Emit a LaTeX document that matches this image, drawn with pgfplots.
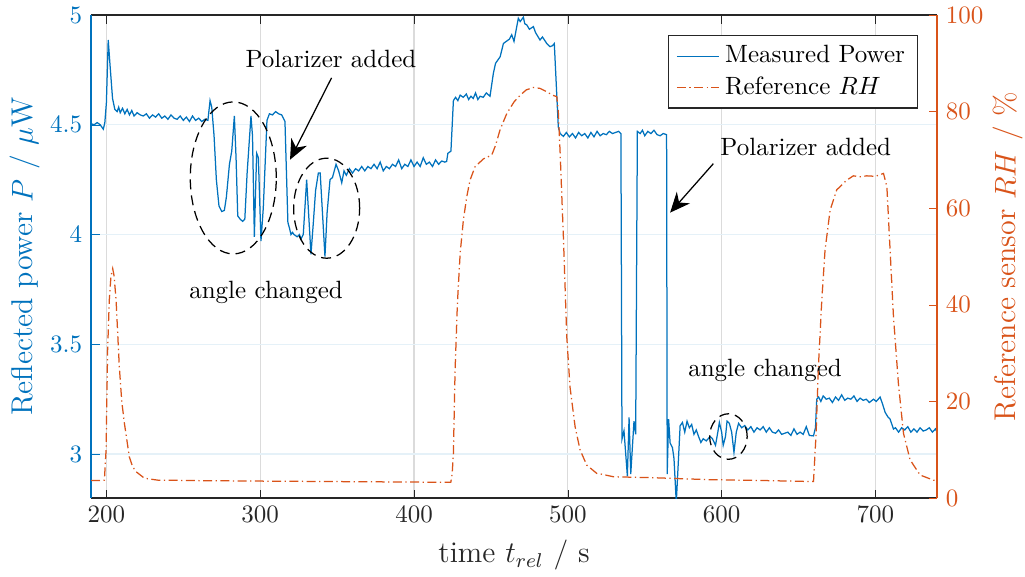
\documentclass[border=0pt]{standalone}
\usepackage{pgfplots}
\pgfplotsset{compat=1.18}
\usetikzlibrary{arrows.meta}
\definecolor{mblue}{rgb}{0,0.447,0.741}
\definecolor{morange}{rgb}{0.85,0.325,0.098}
\definecolor{mgray}{rgb}{0.15,0.15,0.15}
\tikzset{rhstyle/.style={color=morange, line width=0.5pt, dash pattern=on 3.6pt off 1.4pt on 0.5pt off 1.4pt},
  pstyle/.style={color=mblue, line width=0.5pt},
  ell/.style={black, line width=0.5pt, dash pattern=on 4pt off 2.4pt},
  arr/.style={black, line width=0.5pt, -{Stealth[length=8pt,width=7pt]}}}
\begin{document}
\begin{tikzpicture}
\begin{axis}[name=ax, width=338.4pt, height=193.2pt, scale only axis,
  xmin=190, xmax=740, ymin=2.8, ymax=5,
  axis x line*=box, axis y line*=left,
  xtick={200,300,...,700}, ytick={3,3.5,4,4.5,5},
  tick align=inside, major tick length=3.4pt,
  xtick pos=both,
  x axis line style={draw=mgray, line width=0.5pt},
  y axis line style={draw=mblue, line width=0.5pt},
  xtick style={draw=mgray}, ytick style={draw=mblue},
  xticklabel style={text=mgray, font=\normalsize},
  yticklabel style={text=mblue, font=\normalsize},
  xmajorgrids, ymajorgrids,
  major x grid style={draw=black!14, line width=0.5pt},
  major y grid style={draw=mblue!10, line width=0.5pt},
  xlabel={\large time $t_{rel}$ / s},
  ylabel={\large Reflected power $P$ / $\mu$W},
  xlabel style={text=mgray},
  ylabel style={text=mblue},
  ylabel shift=-2.8pt,
  clip=true]
\addplot[pstyle] coordinates {
(190,4.505)(192,4.50)(194,4.51)(196,4.50)(198,4.48)(199,4.51)(200,4.60)(201.2,4.886)(202.5,4.76)(204,4.62)(205.5,4.57)(207,4.56)(208,4.58)(209,4.555)(210.5,4.575)(212,4.55)(213.5,4.57)(215,4.545)(216.5,4.565)(218,4.54)(220,4.555)(222,4.545)(224,4.54)(226,4.55)(228,4.53)(230,4.545)(232,4.535)(234,4.55)(236,4.53)(238,4.54)(240,4.525)(242,4.545)(244,4.53)(246,4.525)(248,4.54)(250,4.52)(252,4.535)(254,4.515)(256,4.54)(258,4.52)(260,4.53)(262,4.515)(264,4.525)(266,4.52)
(267.4,4.61)(268.5,4.58)(270,4.45)(271.5,4.25)(273.2,4.13)(275,4.105)(276.7,4.11)(278,4.17)(280,4.32)(281.5,4.38)(283.2,4.54)(284.3,4.35)(285.4,4.085)(287,4.07)(288.6,4.06)(290,4.07)(291.5,4.28)(294,4.54)(295,4.45)(296.2,3.99)(297,4.20)(297.7,4.37)(298.8,4.35)(300.5,3.97)(302,4.12)(304.4,4.52)(306,4.55)(308,4.545)(310,4.56)(312,4.55)(314,4.545)(316.1,4.515)(318,4.055)(319,4.03)(320,4.0)(321,4.01)(322,4.0)(324,3.99)(325.5,4.0)(326.5,3.98)(328,4.0)(330.2,4.25)(333,3.91)(334.5,4.05)(336,4.2)(337.8,4.28)(339,4.28)(342.1,3.90)(343.5,4.1)(345.4,4.25)(347,4.26)(349.3,4.32)(351,4.29)(353,4.236)(354.5,4.29)
(356,4.27)(358,4.30)(360,4.28)(362,4.30)(364,4.29)(366,4.31)(368,4.29)(370,4.31)(372,4.30)(374,4.32)(376,4.30)(378,4.33)(380,4.29)(382,4.31)(384,4.30)(386,4.32)(388,4.31)(390,4.34)(392,4.30)(394,4.32)(396,4.31)(398,4.34)(400,4.31)(402,4.33)(404,4.31)(406,4.35)(408,4.32)(410,4.33)(412,4.31)(414,4.34)(416,4.32)(418,4.335)(420,4.33)(421.2,4.333)(422,4.37)(424,4.38)
(425.6,4.61)(427,4.625)(428.5,4.61)(430,4.635)(432,4.625)(434,4.64)(435.5,4.615)(437,4.63)(438.5,4.62)(440,4.645)(441.5,4.615)(443,4.63)(445,4.625)(447,4.645)(449.4,4.63)(451.6,4.735)(453,4.78)(456,4.81)(458.1,4.87)(460,4.88)(462,4.89)(463.5,4.91)(465,4.88)(467.8,4.985)(469,4.97)(471.1,4.99)(472,4.96)(473.3,4.955)(475,4.935)(477.6,4.947)(479,4.92)(481.9,4.886)(483.5,4.90)(486.3,4.87)(488.4,4.856)(490,4.86)(491.2,4.87)
(493.8,4.49)(495,4.46)(497.1,4.447)(499,4.465)(501,4.445)(503,4.46)(505,4.44)(507,4.465)(509,4.45)(511,4.46)(513,4.44)(515,4.465)(517,4.445)(519,4.47)(521,4.45)(523,4.46)(525,4.455)(527,4.47)(529,4.46)(531,4.465)(533,4.47)(534.5,4.46)
(535.2,3.068)(536.5,3.106)(538.7,2.90)(539.8,3.167)(540.9,2.909)(543,3.15)(544.1,3.09)
(545.2,4.47)(547,4.46)(548.5,4.475)(550,4.45)(552,4.47)(554,4.46)(556,4.475)(558,4.455)(560,4.45)(562,4.46)(564.2,4.455)
(564.6,2.909)(565.5,3.159)(566.5,3.05)(568,3.03)(569,2.98)(570.5,2.78)(573,3.129)(574.5,3.144)(576,3.10)(577.5,3.15)(579,3.12)(580.5,3.135)(582,3.09)(583.5,3.11)(585,3.08)(586.5,3.053)(588,3.07)(590,3.06)(592.5,3.08)(594,3.07)(596,3.04)(597.5,3.10)(598.5,3.144)(600,3.10)(601,3.04)(602.5,3.08)(603.5,3.15)(605,3.14)(606.5,3.10)(608,3.008)(609.5,3.10)(611,3.14)(613,3.12)(615,3.13)(617,3.11)(619,3.125)(621,3.10)(623,3.12)(625,3.11)(627,3.125)(629,3.10)(631,3.12)(633,3.10)(635,3.095)(637,3.11)(639,3.09)(641,3.095)(643,3.10)(645,3.085)(647,3.115)(649,3.09)(651,3.10)(653,3.09)(655,3.125)(657,3.085)(659.7,3.083)(661,3.12)
(661.8,3.25)(663,3.26)(664.5,3.24)(666,3.265)(668,3.25)(670,3.255)(672,3.235)(674,3.26)(676,3.245)(678,3.27)(680,3.245)(682,3.255)(684,3.25)(686,3.265)(688,3.24)(690,3.255)(692,3.245)(694,3.25)(696,3.235)(698.7,3.25)(700.5,3.24)(703,3.26)(704.5,3.23)(706.3,3.19)(708,3.17)(709.5,3.159)(711.7,3.114)(713,3.12)(715,3.10)(717,3.12)(719,3.11)(721,3.125)(723,3.10)(725,3.115)(727,3.10)(729,3.12)(731,3.105)(733,3.11)(735,3.12)(737,3.10)(739,3.115)(740,3.10)
};
\draw[ell] (axis cs:282.5,4.258) ellipse [x radius=17.2pt, y radius=30.4pt];
\draw[ell] (axis cs:343.2,4.12) ellipse [x radius=13.2pt, y radius=20pt];
\draw[ell] (axis cs:604.4,3.08) ellipse [x radius=7.5pt, y radius=9.1pt];
\node[font=\normalsize, text=black] at (axis cs:346,4.8) {Polarizer added};
\draw[arr] (axis cs:346.4,4.714) -- (axis cs:319.4,4.341);
\node[font=\normalsize, text=black] at (axis cs:303.8,3.736) {angle changed};
\node[font=\normalsize, text=black] at (axis cs:654.7,4.40) {Polarizer added};
\draw[arr] (axis cs:594.6,4.323) -- (axis cs:566.5,4.10);
\node[font=\normalsize, text=black] at (axis cs:628.2,3.379) {angle changed};
\end{axis}
\begin{axis}[width=338.4pt, height=193.2pt, scale only axis,
  xmin=190, xmax=740, ymin=0, ymax=100,
  axis x line=none, axis y line*=right,
  ytick={0,20,...,100},
  tick align=inside, major tick length=3.4pt,
  y axis line style={draw=morange, line width=0.5pt},
  ytick style={draw=morange},
  yticklabel style={text=morange, font=\normalsize},
  ylabel={\large Reference sensor $RH$ / \%},
  ylabel style={text=morange},
  ylabel shift=-3pt,
  legend style={at={(1,1)}, anchor=north east, xshift=-7.6pt, yshift=-8pt, draw=mgray, fill=white, font=\normalsize, line width=0.5pt},
  legend cell align=left]
\addlegendimage{pstyle}
\addlegendentry{Measured Power}
\addplot[rhstyle] coordinates {
(190,3.6)(195,3.6)(198.7,3.7)(199.8,9.9)(200.8,30.6)(201.9,41)(203,46)(204.1,47.5)(205,46)(206.3,41)(208.4,27.2)(210,20)(211.7,15.5)(214.9,8.55)(217,6.5)(219.3,5.45)(224.7,4.1)(233.4,3.7)(260,3.6)(300,3.5)(350,3.4)(400,3.3)(423.9,3.25)(424.8,5)(425.6,9.25)(426.7,26.5)(428.2,40.3)(430,50.7)(432.1,57.6)(434.3,62.4)(436.4,65.8)(439.7,68.6)(445.1,70.2)(450.5,71)(453,73)(455.9,76.2)(460.3,79.6)(465,82)(469,83.4)(473,84.5)(477.6,85)(482,84.8)(486.3,84.1)(490,83.4)(492.8,83.1)(493.8,80)(495,71.4)(497.1,54.1)(499.3,33.4)(501.4,23)(504.7,14.8)(507.9,10)(512.3,6.8)(518.8,5.1)(521,5.0)(529.6,4.4)(555.6,4.2)(592,3.8)(630,3.6)(659.7,3.4)(661.4,13.4)(662.9,27.2)(665.1,41)(667.2,51.3)(670.5,59.6)(674.8,63.8)(681.3,65.8)(685.6,66.7)(690,66.5)(694.3,66.7)(700,66.6)(705.2,67.2)(707.4,64.5)(709.5,51.3)(711.7,37.5)(714.9,23.7)(718.2,13.4)(722.5,7.9)(729,4.76)(737.6,3.7)(740,3.6)
};
\addlegendentry{Reference $RH$}
\end{axis}
\pgfresetboundingbox
\path[use as bounding box] ([xshift=-36.4pt,yshift=-31.2pt]ax.south west) rectangle ([xshift=35.2pt,yshift=6pt]ax.north east);
\end{tikzpicture}
\end{document}
